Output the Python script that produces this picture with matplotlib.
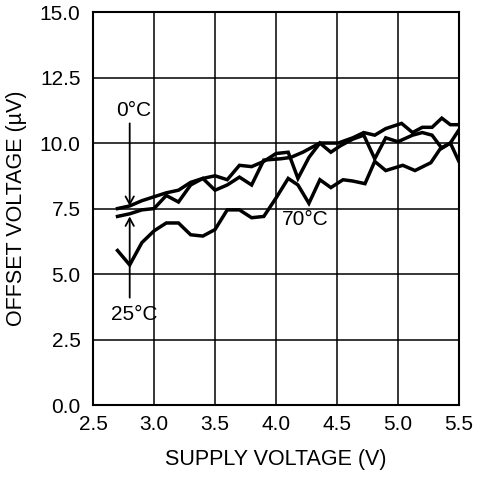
import matplotlib
matplotlib.use('Agg')
import matplotlib.pyplot as plt

# Offset voltage vs supply voltage
x_0c = [2.7, 2.8, 2.9, 3.0, 3.1, 3.2, 3.3, 3.4, 3.5, 3.6, 3.7, 3.8, 3.9, 4.0, 4.1,
        4.18, 4.27, 4.36, 4.45, 4.53, 4.63, 4.72, 4.81, 4.9, 5.0, 5.12, 5.2, 5.28,
        5.36, 5.43, 5.5]
y_0c = [7.5, 7.6, 7.8, 7.95, 8.1, 8.2, 8.5, 8.65, 8.75, 8.6, 9.15, 9.1, 9.3, 9.6, 9.65,
        8.65, 9.45, 10.0, 9.65, 9.9, 10.15, 10.3, 9.4, 10.2, 10.05, 10.3, 10.4, 10.3,
        9.8, 10.0, 9.3]

x_25c = [2.7, 2.8, 2.9, 3.0, 3.1, 3.2, 3.3, 3.4, 3.5, 3.6, 3.7, 3.8, 3.9, 4.04, 4.12,
         4.22, 4.36, 4.51, 4.63, 4.72, 4.81, 4.9, 5.03, 5.12, 5.2, 5.28, 5.36, 5.43, 5.5]
y_25c = [7.2, 7.3, 7.45, 7.5, 8.0, 7.75, 8.4, 8.65, 8.2, 8.4, 8.7, 8.4, 9.35, 9.4, 9.45,
         9.65, 10.0, 10.0, 10.2, 10.4, 10.3, 10.55, 10.75, 10.4, 10.6, 10.6, 10.95, 10.7, 10.7]

x_70c = [2.7, 2.8, 2.9, 3.0, 3.1, 3.2, 3.3, 3.4, 3.5, 3.6, 3.7, 3.8, 3.9, 4.0, 4.1,
         4.18, 4.27, 4.36, 4.45, 4.55, 4.63, 4.73, 4.81, 4.9, 5.04, 5.14, 5.27, 5.35,
         5.43, 5.5]
y_70c = [5.9, 5.35, 6.2, 6.65, 6.95, 6.95, 6.5, 6.45, 6.7, 7.45, 7.45, 7.15, 7.2, 7.9, 8.65,
         8.4, 7.7, 8.6, 8.3, 8.6, 8.55, 8.45, 9.3, 8.95, 9.15, 8.95, 9.25, 9.8,
         10.0, 10.5]

x_ticks = [2.5, 3.0, 3.5, 4.0, 4.5, 5.0, 5.5]
y_ticks = [0.0, 2.5, 5.0, 7.5, 10.0, 12.5, 15.0]

plt.rcParams['font.family'] = ['Liberation Sans', 'DejaVu Sans']

fig = plt.figure(figsize=(4.8, 4.8), dpi=100)
ax = fig.add_axes([0.194, 0.156, 0.762, 0.819])

for xs, ys in [(x_0c, y_0c), (x_25c, y_25c), (x_70c, y_70c)]:
    ax.plot(xs, ys, color='black', lw=2.5, solid_joinstyle='miter', zorder=3)

ax.set_xlim(2.5, 5.5)
ax.set_ylim(0, 15)
ax.set_xticks(x_ticks)
ax.set_yticks(y_ticks)
ax.set_xticklabels([f'{v:.1f}' for v in x_ticks])
ax.set_yticklabels([f'{v:.1f}' for v in y_ticks])
ax.tick_params(length=0, labelsize=15)
ax.tick_params(axis='x', pad=7)
ax.tick_params(axis='y', pad=9)
ax.grid(True, color='black', lw=1.1)
for s in ax.spines.values():
    s.set_linewidth(1.5)

ax.set_xlabel('SUPPLY VOLTAGE (V)', fontsize=15.5, labelpad=11)
ax.set_ylabel('OFFSET VOLTAGE (µV)', fontsize=15.5, labelpad=9)

# temperature labels with arrows
arrow = dict(arrowstyle='->,head_length=0.55,head_width=0.3', color='black', lw=1.3,
             shrinkA=0, shrinkB=0)
ax.annotate('', xy=(2.8, 7.6), xytext=(2.8, 10.75), arrowprops=arrow)
ax.annotate('', xy=(2.8, 7.2), xytext=(2.8, 4.1), arrowprops=arrow)
ax.text(2.83, 11.25, '0°C', fontsize=15, ha='center', va='center')
ax.text(2.84, 3.45, '25°C', fontsize=15, ha='center', va='center')
ax.text(4.24, 7.1, '70°C', fontsize=15, ha='center', va='center')

fig.savefig('out.png', dpi=100)
